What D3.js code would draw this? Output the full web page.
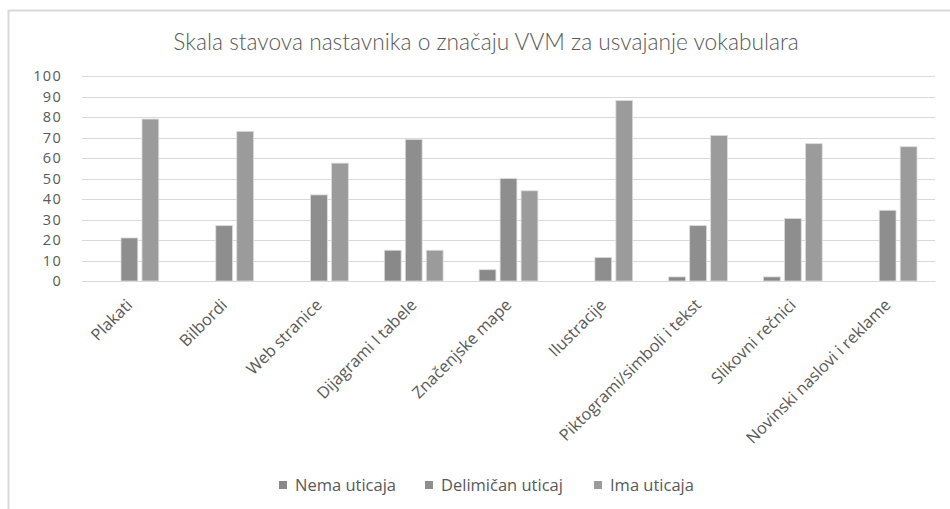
<!DOCTYPE html>
<html><head><meta charset="utf-8">
<script src="https://cdn.jsdelivr.net/npm/d3@7"></script>
<style>body{margin:0;background:#fff}svg{display:block}</style>
</head><body><svg id="c" width="950" height="509"></svg>
<script>
const categories = ["Plakati","Bilbordi","Web stranice","Dijagrami I tabele","Značenjske mape","Ilustracije","Piktogrami/simboli i tekst","Slikovni rečnici","Novinski naslovi i reklame"];
const seriesNames = ["Nema uticaja","Delimičan uticaj","Ima uticaja"];
const nema = [0,0,0,15,5.5,0,2,2,0];
const delimican = [21,27,42,69,50,11.5,27,30.5,34.5];
const ima = [79,73,57.5,15,44,88,71,67,65.5];
const yTicks = [0,10,20,30,40,50,60,70,80,90,100];
const colors = ["#898989","#8e8e8e","#9b9b9b"];

const values = [nema, delimican, ima];
const svg = d3.select("#c");
const font = "'Open Sans', Lato, sans-serif";
const txt = "#595959";

svg.append("rect").attr("x",8.5).attr("y",10.5).attr("width",960).attr("height",520)
  .attr("fill","#fff").attr("stroke","#d9d9d9").attr("stroke-width",2);

const x = d3.scaleBand().domain(categories).range([82,935]).paddingInner(0).paddingOuter(0);
const y = d3.scaleLinear().domain([0,100]).range([281,76]);
const sub = d3.scaleBand().domain(seriesNames).range([-x.bandwidth()*0.31, x.bandwidth()*0.31]).paddingInner(0.2);

svg.append("text").attr("x",486).attr("y",50).attr("text-anchor","middle")
  .attr("font-family","Lato, sans-serif").attr("font-weight",300).attr("font-size",22.7).attr("fill",txt)
  .text("Skala stavova nastavnika o značaju VVM za usvajanje vokabulara");

const grid = svg.append("g");
grid.selectAll("line").data(yTicks).join("line")
  .attr("x1",82).attr("x2",935).attr("y1",d=>Math.round(y(d))+0.5).attr("y2",d=>Math.round(y(d))+0.5)
  .attr("stroke","#d9d9d9").attr("stroke-width",1);

const yAxis = svg.append("g").attr("transform","translate(63,0)")
  .call(d3.axisLeft(y).tickValues(yTicks).tickSize(0).tickPadding(1));
yAxis.select(".domain").remove();
yAxis.selectAll("text").attr("font-family",font).attr("font-size",14.5)
  .attr("letter-spacing",1.3).attr("fill",txt);

const groups = svg.append("g").selectAll("g").data(categories).join("g")
  .attr("transform",d=>`translate(${x(d)+x.bandwidth()/2},0)`);
groups.selectAll("rect").data((c,i)=>seriesNames.map((s,j)=>({s,j,v:values[j][i]})))
  .join("rect")
  .filter(d=>d.v>0)
  .attr("x",d=>sub(d.s)).attr("width",sub.bandwidth())
  .attr("y",d=>y(d.v)).attr("height",d=>y(0)-y(d.v))
  .attr("fill",d=>colors[d.j]).attr("stroke","#dcdcdc").attr("stroke-width",0.8);

const xAxis = svg.append("g").attr("transform","translate(0,281)")
  .call(d3.axisBottom(x).tickSize(0).tickPadding(0));
xAxis.select(".domain").attr("stroke","#d9d9d9");
xAxis.selectAll("text")
  .attr("font-family",font).attr("font-size",16.3).attr("fill",txt)
  .attr("text-anchor","end").attr("dy",0)
  .attr("transform","translate(4,25) rotate(-45)");

const legend = svg.append("g");
const lx = [279,425,594];
seriesNames.forEach((s,j)=>{
  legend.append("rect").attr("x",lx[j]).attr("y",481).attr("width",8).attr("height",8).attr("fill",colors[j]);
  legend.append("text").attr("x",lx[j]+16).attr("y",491).attr("font-family",font).attr("font-size",16.5)
    .attr("fill",txt).text(s);
});
</script></body></html>
